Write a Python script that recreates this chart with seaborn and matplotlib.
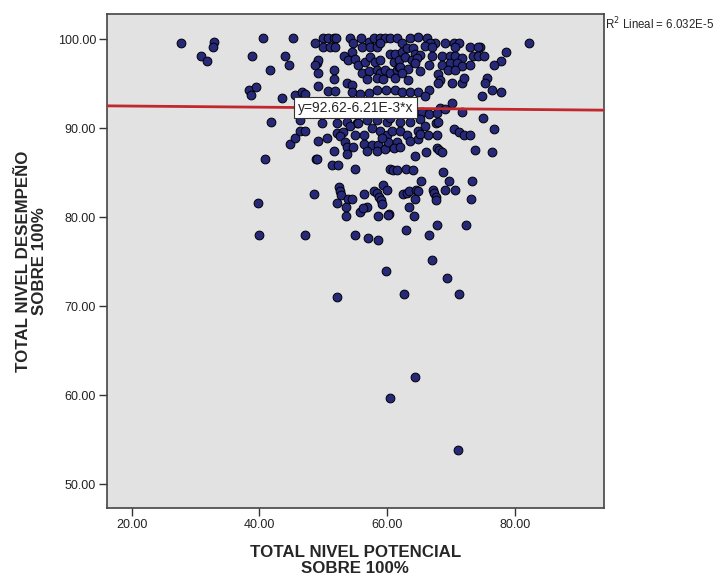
import matplotlib
matplotlib.use("Agg")
import matplotlib.pyplot as plt
import seaborn as sns
import numpy as np
import pandas as pd

# ---- data ----
potencial = [
    27.7, 32.9, 32.7, 30.8, 31.8, 40.6, 45.3, 38.8, 44.0, 44.7, 41.6, 38.4, 39.4, 38.7, 43.6, 45.5, 41.8,
    82.3, 78.7, 77.8, 76.8, 74.6, 75.7, 75.3, 76.4, 77.9, 74.8, 75.0, 76.7,
    40.8, 44.8, 45.6, 46.4, 47.2, 49.2, 50.6, 52.1, 53.1, 52.6, 53.4, 53.7, 53.7, 48.8, 49.0, 51.7, 51.4, 52.3,
    52.5, 52.6, 52.7, 48.5, 39.7, 52.2, 53.9, 53.6, 53.5, 39.9, 47.2,
    73.7, 76.5, 67.8, 68.2, 68.6, 66.1, 64.4, 54.9, 60.4, 60.9, 61.6, 63.0, 64.0, 68.8, 65.3, 69.7, 73.3,
    59.3, 60.0, 58.0, 58.4, 58.8, 59.0, 59.2, 56.4, 62.5, 63.1, 63.4, 64.6, 64.8, 67.2, 67.4, 67.6, 67.6,
    69.0, 70.7, 73.1, 64.3, 54.5, 55.8, 56.8, 56.2, 60.3, 60.1, 58.5, 63.5, 64.2, 62.9, 67.8, 66.5, 72.3,
    55.0, 57.0, 58.6, 67.1, 59.8, 69.4, 52.1, 62.6, 71.2, 64.4, 60.5, 71.1,
    48.7, 50.0, 50.8, 51.6, 52.0, 50.0, 51.1, 51.9, 49.0, 49.2, 48.7, 49.2, 51.6, 51.6, 49.1, 53.2,
    54.2, 54.7, 55.9, 57.1, 57.9, 58.9, 59.7, 60.5, 54.5, 56.0, 57.3, 58.4, 58.9, 53.9, 55.0, 55.5,
    56.6, 57.3, 58.1, 58.9, 60.5, 56.0, 57.1, 58.4, 58.9, 59.7, 60.5, 61.5, 56.8, 58.4, 59.4, 61.3,
    53.7, 54.5, 54.5, 55.8, 57.1, 58.4, 59.9, 61.3, 46.6, 47.2, 50.8, 51.9, 61.0, 61.8,
    61.5, 62.3, 63.6, 64.9, 66.2, 67.5, 66.7, 61.3, 62.3, 63.1, 64.1, 64.4, 65.2, 66.0, 67.0, 69.1,
    70.4, 71.2, 70.7, 73.0, 74.3, 61.8, 62.8, 63.9, 64.7, 67.0, 68.6, 69.9, 70.7, 71.7, 73.5, 74.3, 75.1,
    62.0, 63.3, 64.4, 65.2, 66.5, 68.6, 69.9, 70.9, 71.7, 73.0, 69.6, 70.7, 62.3, 63.3, 68.0, 68.3,
    68.0, 70.1, 71.7, 72.0, 62.3, 63.6, 64.9, 66.5, 66.0,
    46.4, 49.8, 52.1, 53.7, 55.3, 56.8, 58.4, 60.0, 54.2, 55.5, 55.0, 56.3, 57.6, 58.9, 60.0,
    54.7, 56.3, 57.6, 58.6, 60.0, 56.8, 58.4, 59.7,
    70.1, 68.3, 69.1, 71.8, 65.4, 66.5, 65.2, 63.6, 62.0, 60.5, 61.3, 67.8, 67.6, 68.0, 70.4, 71.3,
    72.1, 73.0, 60.7, 62.0, 63.1, 64.9, 66.0, 66.4, 67.8, 60.2, 61.5, 61.0, 62.0, 63.6, 64.9,
    59.2, 65.2,
]
desempeno = [
    99.6, 99.7, 99.1, 98.1, 97.6, 100.1, 100.1, 98.1, 98.1, 97.1, 96.6, 94.3, 94.6, 93.7, 93.4, 93.7, 90.7,
    99.6, 98.6, 97.6, 97.1, 99.1, 95.6, 95.1, 94.3, 94.1, 93.6, 91.2, 89.9,
    86.6, 88.2, 88.9, 89.7, 89.7, 88.6, 88.9, 89.5, 89.6, 89.1, 88.5, 87.9, 87.1, 86.6, 86.5, 87.4, 85.9, 85.9,
    83.4, 82.9, 82.5, 82.6, 81.6, 81.6, 82.1, 81.1, 80.1, 78.0, 78.0,
    87.6, 87.3, 87.8, 87.6, 87.3, 87.3, 86.9, 85.4, 85.4, 85.3, 85.3, 85.4, 85.3, 85.1, 84.1, 84.1, 84.1,
    83.6, 83.1, 83.0, 82.7, 82.3, 81.9, 81.5, 82.6, 82.6, 82.7, 83.0, 83.1, 82.9, 83.1, 82.7, 82.3, 81.9,
    83.1, 83.1, 82.0, 82.0, 82.1, 80.6, 81.1, 81.0, 80.4, 80.3, 80.1, 81.1, 80.1, 78.6, 79.1, 78.0, 79.1,
    78.0, 77.7, 77.4, 75.2, 74.0, 73.2, 71.0, 71.4, 71.4, 62.1, 59.7, 53.9,
    99.6, 100.1, 100.1, 100.1, 100.1, 99.1, 99.1, 99.1, 97.3, 97.7, 97.1, 96.2, 96.6, 95.5, 94.8, 98.1,
    100.1, 99.6, 100.1, 99.7, 100.1, 100.1, 100.1, 100.1, 98.6, 99.1, 99.1, 99.1, 99.6, 97.7, 97.8, 97.1,
    97.5, 98.0, 97.5, 97.7, 98.4, 96.2, 96.4, 96.6, 96.2, 96.6, 96.2, 96.6, 95.5, 95.6, 95.5, 95.6,
    95.1, 94.9, 94.1, 93.9, 94.0, 94.3, 94.3, 94.3, 94.1, 93.9, 94.2, 94.2, 97.5, 96.9,
    100.1, 99.6, 100.1, 100.2, 100.1, 99.6, 99.6, 98.4, 98.6, 99.0, 99.0, 98.4, 98.2, 99.2, 99.1, 99.6,
    99.6, 99.6, 99.1, 99.1, 99.1, 97.7, 98.0, 97.7, 97.9, 98.1, 98.1, 98.1, 98.1, 97.9, 98.1, 98.1, 98.1,
    96.9, 96.7, 97.3, 96.4, 97.1, 97.1, 97.3, 97.3, 97.0, 97.1, 96.6, 96.6, 96.2, 95.4, 96.1, 95.4,
    95.1, 95.1, 95.1, 95.6, 94.1, 94.1, 94.1, 94.3, 93.6,
    90.9, 90.6, 90.6, 90.7, 90.6, 90.9, 90.9, 90.7, 90.2, 90.6, 89.3, 89.3, 90.0, 89.7, 89.3,
    87.9, 88.2, 88.1, 88.1, 87.9, 87.5, 87.4, 87.7,
    92.8, 92.3, 92.2, 91.8, 91.8, 91.6, 91.0, 90.7, 90.7, 91.1, 91.7, 91.7, 90.6, 90.7, 89.9, 89.6,
    89.3, 89.3, 89.7, 89.7, 89.3, 89.7, 90.2, 89.3, 89.3, 88.5, 88.5, 87.8, 87.9, 88.6, 88.8,
    88.9, 89.4,
]
fit_intercept = 92.62
fit_slope = -6.21e-3
fit_label = "y=92.62-6.21E-3*x"
r2_label = "R$^2$ Lineal = 6.032E-5"
x_ticks = [20, 40, 60, 80]
y_ticks = [50, 60, 70, 80, 90, 100]
x_limits = [16.16, 93.9]
y_limits = [47.3, 102.84]

df = pd.DataFrame({"potencial": potencial, "desempeno": desempeno})
line_df = pd.DataFrame({"x": x_limits,
                        "y": [fit_intercept + fit_slope * v for v in x_limits]})

sns.set_style("white")
plt.rcParams["font.family"] = ["Liberation Sans", "DejaVu Sans"]

fig = plt.figure(figsize=(7.2, 5.79), dpi=100)
ax = fig.add_axes([107.3 / 720, 1 - 508.3 / 579, 496.2 / 720, 494.3 / 579])
ax.set_facecolor("#e2e2e2")

sns.scatterplot(data=df, x="potencial", y="desempeno", ax=ax, s=40,
                color="#26287a", edgecolor="black", linewidth=0.7, zorder=3)
sns.lineplot(data=line_df, x="x", y="y", ax=ax, color="#c1272d", linewidth=2.0, zorder=4)

ax.set_xlim(*x_limits)
ax.set_ylim(*y_limits)
ax.set_xticks(x_ticks)
ax.set_yticks(y_ticks)
ax.set_xticklabels([f"{v:.2f}" for v in x_ticks])
ax.set_yticklabels([f"{v:.2f}" for v in y_ticks])
ax.tick_params(axis="both", direction="out", length=6, width=1.0, color="#333333",
               labelsize=9, labelcolor="#222222", pad=2, bottom=True, left=True)
for sp in ax.spines.values():
    sp.set_color("#444444")
    sp.set_linewidth(1.2)

ax.set_xlabel("TOTAL NIVEL POTENCIAL\nSOBRE 100%", fontsize=12.2, fontweight="bold",
              va="center", ha="center", linespacing=1.12)
ax.xaxis.set_label_coords(0.5, -0.106)
ax.set_ylabel("TOTAL NIVEL DESEMPEÑO\nSOBRE 100%", fontsize=12.2, fontweight="bold",
              va="center", ha="center", linespacing=1.08)
ax.yaxis.set_label_coords(-0.152, 0.5)

ax.text(0.5, 0.81, fit_label, transform=ax.transAxes, ha="center", va="center",
        fontsize=10, zorder=6,
        bbox=dict(boxstyle="square,pad=0.25", facecolor="white", edgecolor="#333333", linewidth=0.8))
fig.text(605 / 720, 1 - 24 / 579, r2_label, ha="left", va="center", fontsize=8.3)

fig.savefig("out.png", dpi=100)
